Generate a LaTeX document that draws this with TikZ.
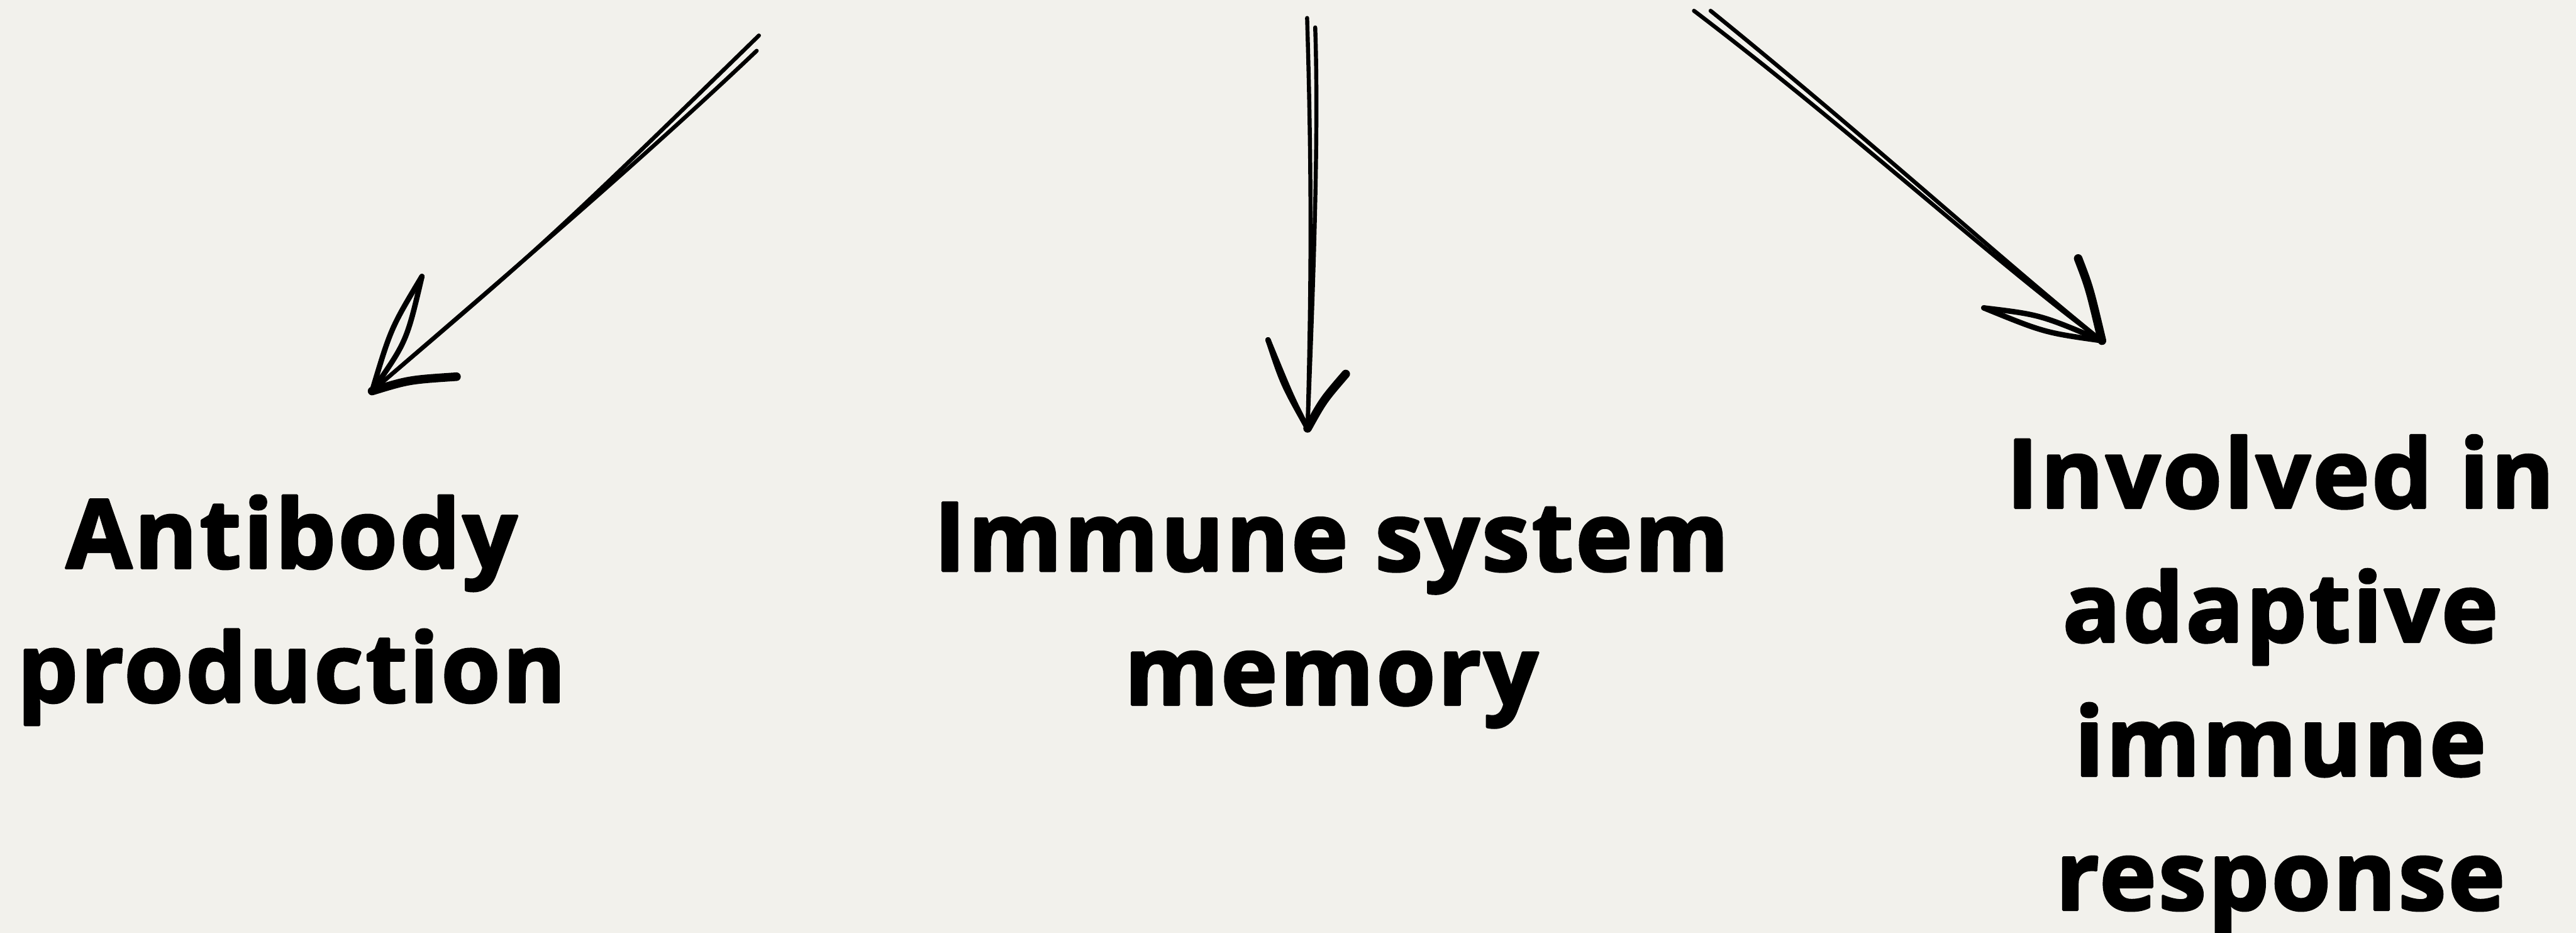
\documentclass[tikz,border=0pt]{standalone}
\usepackage{fontspec}
\setmainfont{Open Sans}[BoldFeatures={FakeBold=2.5,LetterSpace=2.5}]
\usepackage{tikz}
\usetikzlibrary{arrows.meta}
\usepackage{xcolor}
\definecolor{paper}{HTML}{F2F1EC}

\begin{document}
\begin{tikzpicture}[line cap=round,line join=round,
  lbl/.style={font=\fontsize{60.6}{84.8}\selectfont\bfseries,align=center,inner sep=0pt,anchor=base},
  shaft/.style={line width=0.09cm,black},
  barb/.style={line width=0.19cm,black},
  lens/.style={line width=0.12cm,black}]
\fill[paper] (0,0) rectangle (57.33,-20.75);
\useasboundingbox (0,0) rectangle (57.33,-20.75);
\node[lbl] (antibody) at (6.49,-15.62) {Antibody\\production};
\node[lbl] (memory) at (29.63,-15.68) {Immune system\\memory};
\node[lbl] (adaptive) at (50.75,-20.24) {Involved in\\adaptive\\immune\\response};
\coordinate (srcL1) at (16.89,-0.79);
\coordinate (srcL2) at (16.84,-1.13);
\coordinate (tipL) at (8.28,-8.70);
\draw[shaft] (srcL1) .. controls (12.2,-5.36) .. (tipL);
\draw[shaft] (srcL2) .. controls (14.4,-3.45) and (11.3,-6.10) .. (tipL);
\draw[lens] (tipL) .. controls (8.70,-7.30) .. (9.39,-6.15);
\draw[lens] (tipL) .. controls (9.05,-7.60) .. (9.39,-6.15);
\draw[barb] (tipL) .. controls (9.10,-8.45) .. (10.16,-8.38);
\coordinate (srcM1) at (29.09,-0.40);
\coordinate (srcM2) at (29.27,-0.61);
\coordinate (tipM) at (29.10,-9.53);
\draw[shaft] (srcM1) .. controls (29.20,-4.00) and (29.18,-6.50) .. (tipM);
\draw[shaft] (srcM2) .. controls (29.36,-3.20) and (29.20,-7.00) .. (tipM);
\draw[lens] (tipM) .. controls (28.75,-8.85) .. (28.22,-7.56);
\draw[lens] (tipM) .. controls (28.55,-8.55) .. (28.22,-7.56);
\draw[barb] (tipM) .. controls (29.45,-8.90) .. (29.95,-8.32);
\coordinate (srcR1) at (37.70,-0.24);
\coordinate (srcR2) at (38.07,-0.24);
\coordinate (tipR) at (46.78,-7.58);
\draw[shaft] (srcR1) .. controls (41.20,-2.90) and (44.60,-6.00) .. (tipR);
\draw[shaft] (srcR2) .. controls (41.60,-3.10) and (44.80,-6.00) .. (tipR);
\draw[barb] (tipR) .. controls (46.50,-6.40) .. (46.25,-5.75);
\draw[lens] (tipR) .. controls (45.40,-7.00) .. (44.15,-6.85);
\draw[lens] (tipR) .. controls (45.50,-7.40) .. (44.15,-6.85);
\end{tikzpicture}
\end{document}
